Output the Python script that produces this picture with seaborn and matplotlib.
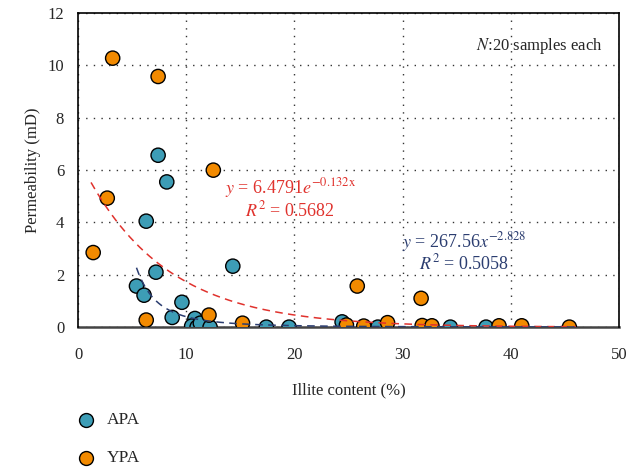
import numpy as np
import pandas as pd
import matplotlib
matplotlib.use("Agg")
import matplotlib.pyplot as plt
import seaborn as sns

# APA samples (illite %, permeability mD)
apa_x = [7.4, 8.2, 6.3, 7.2, 5.4, 6.1, 9.6, 8.7, 14.3, 10.8,
         10.5, 11.0, 11.3, 12.2, 17.4, 19.5, 24.4, 27.7, 34.4, 37.7]
apa_y = [6.57, 5.55, 4.05, 2.10, 1.57, 1.22, 0.95, 0.37, 2.33, 0.33,
         0.04, 0.00, 0.15, 0.00, 0.00, 0.00, 0.20, 0.00, 0.00, 0.00]
# YPA samples
ypa_x = [3.2, 7.4, 2.7, 1.4, 12.5, 6.3, 12.1, 15.2, 24.8, 25.8,
         26.4, 28.6, 31.7, 31.8, 32.7, 38.9, 41.0, 45.4]
ypa_y = [10.28, 9.58, 4.93, 2.85, 6.00, 0.27, 0.46, 0.15, 0.08, 1.57,
         0.04, 0.17, 1.10, 0.06, 0.05, 0.05, 0.05, 0.00]

# fitted trend lines (from the equations printed on the chart)
exp_a, exp_b = 6.4791, -0.132      # YPA exponential
pow_a, pow_b = 267.56, -2.828      # APA power

df = pd.DataFrame({
    "illite": apa_x + ypa_x,
    "perm": apa_y + ypa_y,
    "group": ["APA"] * len(apa_x) + ["YPA"] * len(ypa_x),
})

sns.set_style("white")
plt.rcParams["font.family"] = ["Liberation Serif", "DejaVu Serif"]
plt.rcParams["mathtext.fontset"] = "stix"

fig, ax = plt.subplots(figsize=(6.37, 4.70), dpi=100)
fig.subplots_adjust(left=0.1225, right=0.972, top=0.972, bottom=0.304)

palette = {"APA": "#3d9db6", "YPA": "#f28a00"}
sns.scatterplot(data=df, x="illite", y="perm", hue="group", palette=palette,
                s=105, edgecolor="black", linewidth=1.0, ax=ax, zorder=3,
                legend=False)

xe = np.linspace(1.2, 46, 200)
ax.plot(xe, exp_a * np.exp(exp_b * xe), ls=(0, (5, 3.5)), color="#e0322d",
        lw=1.1, zorder=4)
xp = np.linspace(5.4, 46, 200)
ax.plot(xp, pow_a * xp ** pow_b, ls=(0, (5, 3.5)), color="#2b3d70",
        lw=1.1, zorder=4)

ax.set_xlim(0, 50)
ax.set_ylim(0, 12)
ax.set_xticks(range(0, 51, 10))
ax.set_yticks(range(0, 13, 2))
ax.grid(True, ls=(0, (1, 4.5)), color="#333333", lw=1.0)
ax.set_axisbelow(True)
ax.tick_params(axis="both", direction="out", length=6, width=1,
               labelsize=12, color="black")
ax.tick_params(axis="x", pad=8)
ax.tick_params(axis="y", pad=4)
for sp in ax.spines.values():
    sp.set_color("black")
    sp.set_linewidth(1.2)
ax.spines["bottom"].set_color("#444444")
ax.spines["bottom"].set_linewidth(1.8)
ax.spines["bottom"].set_zorder(2)

ax.set_xlabel("Illite content (%)", fontsize=12, labelpad=14)
ax.set_ylabel("Permeability (mD)", fontsize=12, labelpad=5)

ax.text(0.97, 0.895, r"$N$:20 samples each", transform=ax.transAxes,
        ha="right", va="center", fontsize=12)
ax.text(19.6, 5.31, r"$y$ = 6.4791$e^{-0.132\mathrm{x}}$", color="#e0322d",
        ha="center", va="center", fontsize=13)
ax.text(19.6, 4.45, r"$R^2$ = 0.5682", color="#e0322d",
        ha="center", va="center", fontsize=13)
ax.text(35.7, 3.25, r"$y$ = 267.56$x^{-2.828}$", color="#2b3d70",
        ha="center", va="center", fontsize=13)
ax.text(35.7, 2.45, r"$R^2$ = 0.5058", color="#2b3d70",
        ha="center", va="center", fontsize=13)

# legend below the axes
for i, g in enumerate(["APA", "YPA"]):
    yy = 0.107 - i * 0.081
    fig.add_artist(plt.Line2D([86 / 637], [yy], marker="o", markersize=10,
                              markerfacecolor=palette[g],
                              markeredgecolor="black", markeredgewidth=1.0,
                              transform=fig.transFigure))
    fig.text(107 / 637, yy, g, ha="left", va="center", fontsize=12.5)

fig.savefig("out.png", dpi=100)
